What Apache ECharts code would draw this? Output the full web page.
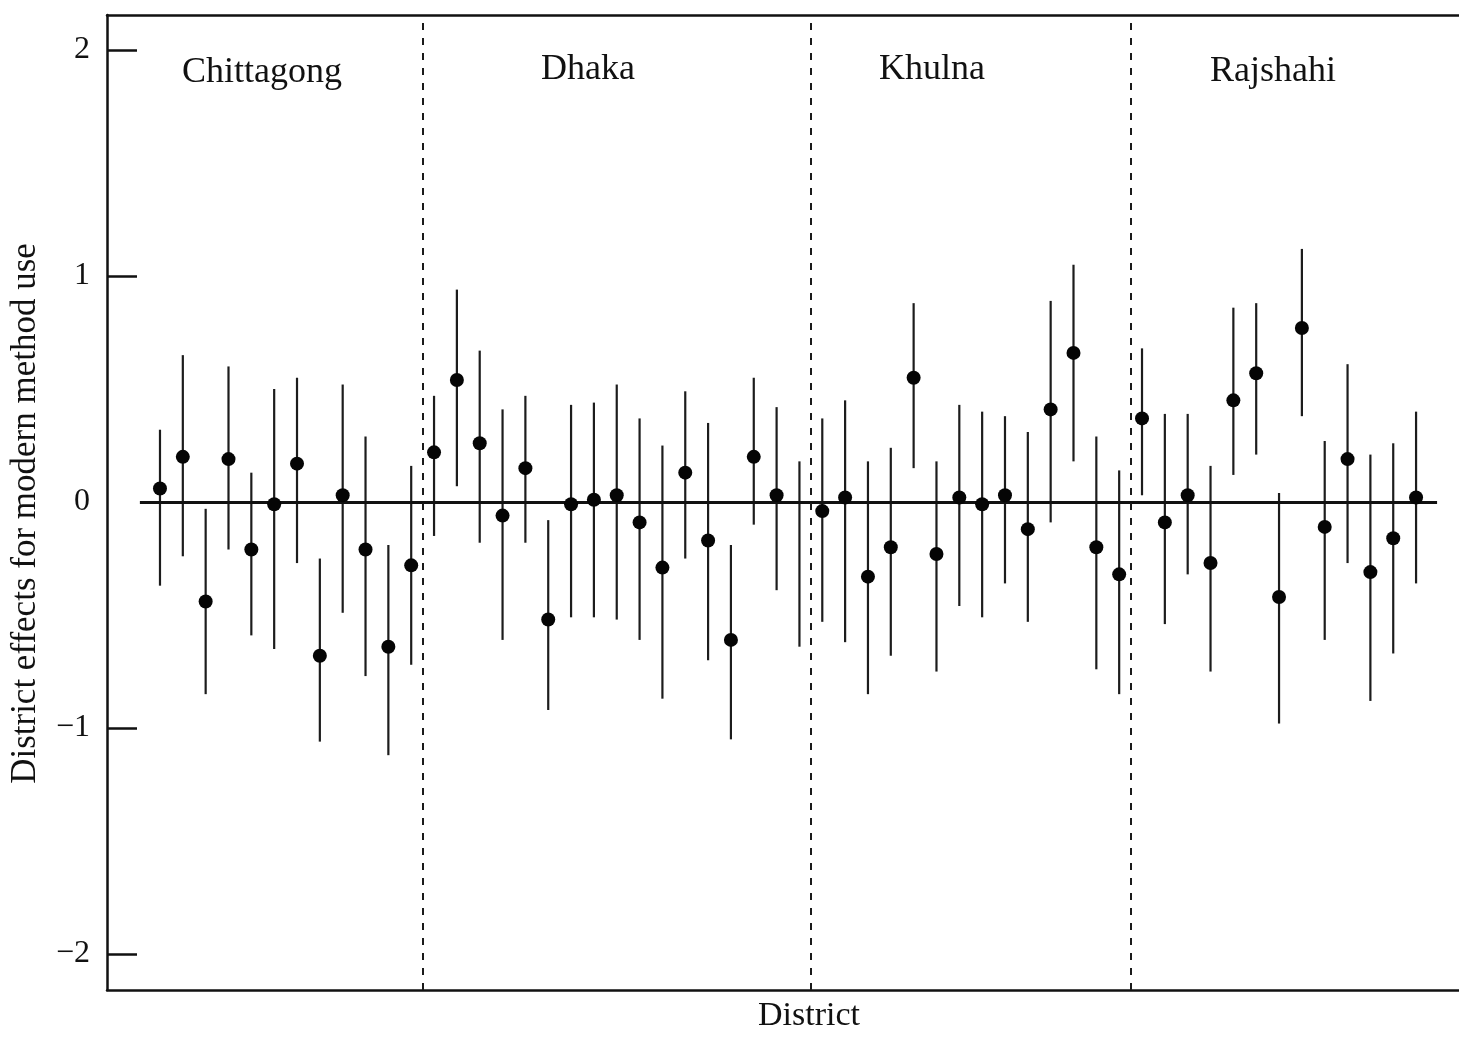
<!DOCTYPE html>
<html>
<head>
<meta charset="utf-8">
<script src="https://cdn.jsdelivr.net/npm/echarts@6/dist/echarts.min.js"></script>
<style>
  html, body { margin: 0; padding: 0; background: #fff; }
  #chart { width: 1459px; height: 1038px; }
</style>
</head>
<body>
<div id="chart"></div>
<script>
// Division names and how many districts each holds, left to right
const divisions = ['Chittagong', 'Dhaka', 'Khulna', 'Rajshahi'];
const divisionSizes = [12, 17, 14, 13];

// District effect estimates (null: no point printed for that district)
const estimates = [
  // Chittagong
  0.06, 0.20, -0.44, 0.19, -0.21, -0.01, 0.17, -0.68, 0.03, -0.21, -0.64, -0.28,
  // Dhaka
  0.22, 0.54, 0.26, -0.06, 0.15, -0.52, -0.01, 0.01, 0.03, -0.09, -0.29, 0.13, -0.17, -0.61, 0.20, 0.03, null,
  // Khulna
  -0.04, 0.02, -0.33, -0.20, 0.55, -0.23, 0.02, -0.01, 0.03, -0.12, 0.41, 0.66, -0.20, -0.32,
  // Rajshahi
  0.37, -0.09, 0.03, -0.27, 0.45, 0.57, -0.42, 0.77, -0.11, 0.19, -0.31, -0.16, 0.02
];

// Upper ends of the intervals
const upper = [
  0.32, 0.65, -0.03, 0.60, 0.13, 0.50, 0.55, -0.25, 0.52, 0.29, -0.19, 0.16,
  0.47, 0.94, 0.67, 0.41, 0.47, -0.08, 0.43, 0.44, 0.52, 0.37, 0.25, 0.49, 0.35, -0.19, 0.55, 0.42, 0.18,
  0.37, 0.45, 0.18, 0.24, 0.88, 0.18, 0.43, 0.40, 0.38, 0.31, 0.89, 1.05, 0.29, 0.14,
  0.68, 0.39, 0.39, 0.16, 0.86, 0.88, 0.04, 1.12, 0.27, 0.61, 0.21, 0.26, 0.40
];

// Lower ends of the intervals
const lower = [
  -0.37, -0.24, -0.85, -0.21, -0.59, -0.65, -0.27, -1.06, -0.49, -0.77, -1.12, -0.72,
  -0.15, 0.07, -0.18, -0.61, -0.18, -0.92, -0.51, -0.51, -0.52, -0.61, -0.87, -0.25, -0.70, -1.05, -0.10, -0.39, -0.64,
  -0.53, -0.62, -0.85, -0.68, 0.15, -0.75, -0.46, -0.51, -0.36, -0.53, -0.09, 0.18, -0.74, -0.85,
  0.03, -0.54, -0.32, -0.75, 0.12, 0.21, -0.98, 0.38, -0.61, -0.27, -0.88, -0.67, -0.36
];

// Y tick values
const yTicks = [-2, -1, 0, 1, 2];
const yTickMarks = [-2, -1, 1, 2];

const FONT = '"Liberation Serif", "DejaVu Serif", serif';
const INK = '#111';

const n = estimates.length;
const barData = estimates.map((_, i) => [i, lower[i], upper[i]]);
const pointData = estimates.map((v, i) => [i, v]).filter(d => d[1] !== null);

// Dashed separators sit halfway between the last district of one division and the first of the next
const separators = [];
let cum = 0;
for (let k = 0; k < divisionSizes.length - 1; k++) {
  cum += divisionSizes[k];
  separators.push({ xAxis: cum - 0.5 });
}

const xMin = -2.32, xMax = n - 1 + 1.88;

// Division headings along the top of the panel
const headingPos = [[262, 73], [588, 70], [932, 70], [1273, 72]];
const headings = divisions.map((name, k) => ({
  type: 'text',
  x: headingPos[k][0],
  y: headingPos[k][1],
  style: { text: name, font: '36px ' + FONT, fill: INK, align: 'center', verticalAlign: 'middle' }
}));

const chart = echarts.init(document.getElementById('chart'), null, { renderer: 'canvas' });

chart.setOption({
  backgroundColor: '#fff',
  animation: false,
  textStyle: { fontFamily: FONT, color: INK },
  grid: { left: 104, right: 0, top: 15, bottom: 46 },
  xAxis: [
    {
      type: 'value', min: xMin, max: xMax, position: 'bottom',
      name: 'District', nameLocation: 'middle', nameGap: 9,
      nameTextStyle: { fontFamily: FONT, fontSize: 34, color: INK, padding: [0, 0, 0, 52] },
      axisLine: { show: true, onZero: false, lineStyle: { color: INK, width: 2.5 } },
      axisTick: { show: false }, axisLabel: { show: false }, splitLine: { show: false }
    },
    {
      type: 'value', min: xMin, max: xMax, position: 'top',
      axisLine: { show: true, onZero: false, lineStyle: { color: INK, width: 2.5 } },
      axisTick: { show: false }, axisLabel: { show: false }, splitLine: { show: false }
    }
  ],
  yAxis: {
    type: 'value', min: -2.159, max: 2.155,
    name: 'District effects for modern method use', nameLocation: 'middle', nameGap: 64,
    nameTextStyle: { fontFamily: FONT, fontSize: 35, color: INK, padding: [0, 22, 0, 0] },
    axisLine: { show: true, onZero: false, lineStyle: { color: INK, width: 2.5 } },
    axisTick: { show: true, inside: true, length: 30, customValues: yTickMarks, lineStyle: { color: INK, width: 2.5 } },
    axisLabel: {
      customValues: yTicks, margin: 17, fontFamily: FONT, fontSize: 32, color: INK,
      formatter: v => (v < 0 ? '\u2212' + Math.abs(v) : String(v))
    },
    splitLine: { show: false }
  },
  graphic: headings,
  series: [
    {
      // Reference line at zero and the dashed division separators
      type: 'line', data: [], silent: true,
      markLine: {
        silent: true, symbol: 'none', animation: false,
        label: { show: false },
        data: [
          [{ coord: [-0.88, 0], lineStyle: { type: 'solid', width: 2.8, color: INK } },
           { coord: [n - 1 + 0.92, 0] }],
          ...separators.map(s => Object.assign({}, s, { lineStyle: { type: [7, 8], width: 2, color: '#1a1a1a' } }))
        ]
      }
    },
    {
      // Interval bars
      type: 'custom', data: barData, silent: true,
      renderItem: (params, api) => {
        const x = api.value(0);
        const p1 = api.coord([x, api.value(1)]);
        const p2 = api.coord([x, api.value(2)]);
        return {
          type: 'line',
          shape: { x1: p1[0], y1: p1[1], x2: p2[0], y2: p2[1] },
          style: { stroke: '#1c1c1c', lineWidth: 2.2 }
        };
      },
      encode: { x: 0, y: [1, 2] }
    },
    {
      // Point estimates
      type: 'scatter', data: pointData, symbol: 'circle', symbolSize: 14,
      itemStyle: { color: '#050505', opacity: 1 }, silent: true, z: 5
    }
  ]
});
</script>
</body>
</html>
